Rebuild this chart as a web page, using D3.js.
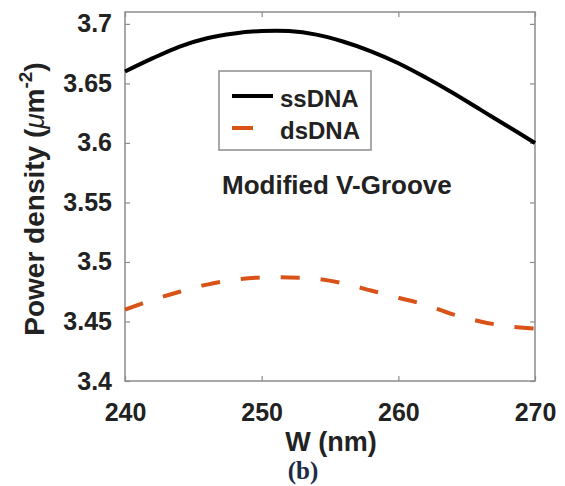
<!DOCTYPE html>
<html>
<head>
<meta charset="utf-8">
<script src="https://cdn.jsdelivr.net/npm/d3@7"></script>
<style>
body { margin: 0; background: #fff; }
svg { display: block; font-family: "Liberation Sans", Arial, sans-serif; }
</style>
</head>
<body>
<svg id="chart" width="565" height="486"></svg>
<script>
'use strict';

var widths = [240, 242, 244, 246, 248, 250, 252, 254, 256, 258, 260, 262, 264, 266, 268, 270];
var ssDNA = [3.660, 3.671, 3.681, 3.688, 3.692, 3.694, 3.694, 3.691, 3.685, 3.677, 3.667, 3.655, 3.642, 3.628, 3.614, 3.600];
var dsDNA = [3.460, 3.468, 3.475, 3.481, 3.485, 3.487, 3.487, 3.486, 3.482, 3.476, 3.470, 3.464, 3.456, 3.450, 3.446, 3.444];
var xTicks = [240, 250, 260, 270];
var yTicks = [3.4, 3.45, 3.5, 3.55, 3.6, 3.65, 3.7];
var seriesNames = ['ssDNA', 'dsDNA'];

var margin = {left: 125, top: 12, right: 30, bottom: 105};
var W = 565 - margin.left - margin.right;
var H = 486 - margin.top - margin.bottom;
var axisColor = '#8c8c8c';
var textColor = '#222';

var svg = d3.select('#chart');
var g = svg.append('g')
	.attr('transform', 'translate(' + margin.left + ',' + margin.top + ')');

var x = d3.scaleLinear().domain([240, 270]).range([0, W]);
var y = d3.scaleLinear().domain([3.4, 3.71]).range([H, 0]);

function styleAxis(sel, showText) {
	sel.select('.domain').remove();
	sel.selectAll('.tick line').attr('stroke', axisColor).attr('stroke-width', 1.2);
	sel.selectAll('.tick text')
		.attr('fill', textColor)
		.attr('font-size', 25)
		.attr('font-weight', 'bold')
		.style('display', showText ? null : 'none');
}

// ticks pointing inward on all four sides
g.append('g')
	.attr('transform', 'translate(0,' + H + ')')
	.call(d3.axisBottom(x).tickValues(xTicks).tickSize(-5).tickPadding(22).tickFormat(d3.format('d')))
	.call(styleAxis, true);
g.append('g')
	.call(d3.axisTop(x).tickValues(xTicks).tickSize(-5).tickFormat(''))
	.call(styleAxis, false);
g.append('g')
	.call(d3.axisLeft(y).tickValues(yTicks).tickSize(-5).tickPadding(13).tickFormat(d3.format('~g')))
	.call(styleAxis, true);
g.append('g')
	.attr('transform', 'translate(' + W + ',0)')
	.call(d3.axisRight(y).tickValues(yTicks).tickSize(-5).tickFormat(''))
	.call(styleAxis, false);

g.append('rect')
	.attr('width', W).attr('height', H)
	.attr('fill', 'none')
	.attr('stroke', axisColor)
	.attr('stroke-width', 1.5);

var line = d3.line()
	.x(function(d, i) { return x(widths[i]); })
	.y(function(d) { return y(d); })
	.curve(d3.curveCatmullRom);

g.append('path')
	.datum(ssDNA)
	.attr('d', line)
	.attr('fill', 'none')
	.attr('stroke', '#000')
	.attr('stroke-width', 4);

g.append('path')
	.datum(dsDNA)
	.attr('d', line)
	.attr('fill', 'none')
	.attr('stroke', '#D95319')
	.attr('stroke-width', 4)
	.attr('stroke-dasharray', '19,21');

// legend
var legend = svg.append('g').attr('transform', 'translate(219,71)');
legend.append('rect')
	.attr('width', 152).attr('height', 79)
	.attr('fill', '#fff')
	.attr('stroke', axisColor)
	.attr('stroke-width', 1.5);
var styles = [{stroke: '#000', dash: null}, {stroke: '#D95319', dash: '21,40'}];
seriesNames.forEach(function(name, i) {
	var cy = 25 + i * 32;
	legend.append('line')
		.attr('x1', 13).attr('x2', 54)
		.attr('y1', cy).attr('y2', cy)
		.attr('stroke', styles[i].stroke)
		.attr('stroke-width', 4)
		.attr('stroke-dasharray', styles[i].dash);
	legend.append('text')
		.attr('x', 61).attr('y', cy + 11)
		.attr('font-size', 24)
		.attr('font-weight', 'bold')
		.attr('fill', textColor)
		.text(name);
});

svg.append('text')
	.attr('x', 222).attr('y', 194)
	.attr('font-size', 26)
	.attr('font-weight', 'bold')
	.attr('fill', textColor)
	.text('Modified V-Groove');

// axis labels
svg.append('text')
	.attr('x', 331).attr('y', 451)
	.attr('text-anchor', 'middle')
	.attr('font-size', 27)
	.attr('font-weight', 'bold')
	.attr('fill', textColor)
	.text('W (nm)');

var yl = svg.append('text')
	.attr('transform', 'translate(44,199) rotate(-90)')
	.attr('text-anchor', 'middle')
	.attr('font-size', 28)
	.attr('font-weight', 'bold')
	.attr('fill', textColor);
yl.append('tspan').text('Power density (');
yl.append('tspan').attr('font-style', 'italic').attr('font-weight', 'normal').text('\u03bc');
yl.append('tspan').text('m');
yl.append('tspan').attr('dy', -12).attr('font-size', 19).text('-2');
yl.append('tspan').attr('dy', 12).text(')');

svg.append('text')
	.attr('x', 303).attr('y', 479)
	.attr('text-anchor', 'middle')
	.attr('font-family', '"Liberation Serif", "Times New Roman", serif')
	.attr('font-size', 25)
	.attr('font-weight', 'bold')
	.attr('fill', '#1d2a48')
	.text('(b)');
</script>
</body>
</html>
